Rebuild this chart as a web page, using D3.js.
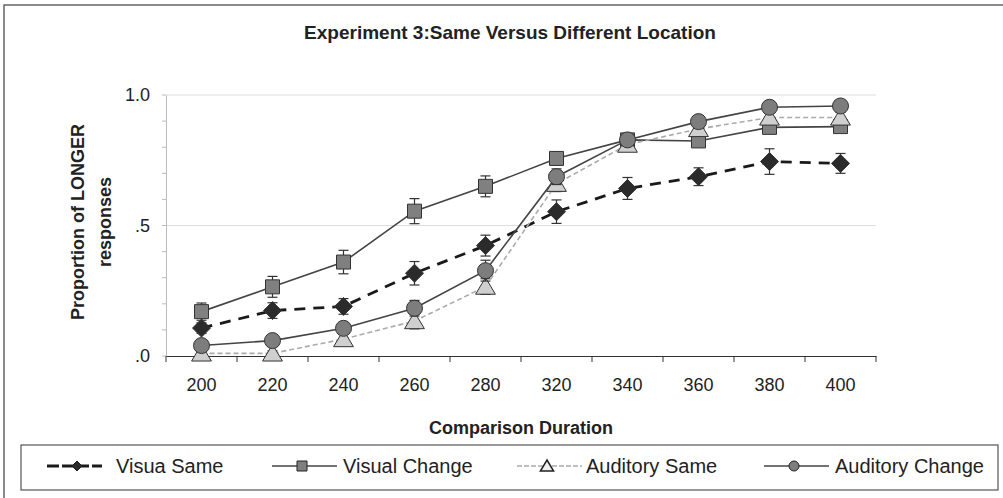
<html>
<head>
<script src="https://d3js.org/d3.v7.min.js"></script>
<style>
body { margin:0; background:#fff; }
text { font-family: Arial, "Liberation Sans", sans-serif; fill:#222; }
</style>
</head>
<body>
<svg width="1003" height="498"></svg>
<script>
// data
var categories = ["200","220","240","260","280","320","340","360","380","400"];
var visualSame = [0.107,0.174,0.19,0.317,0.423,0.553,0.642,0.687,0.745,0.738];
var visualSameErr = [0.02,0.03,0.03,0.045,0.04,0.045,0.042,0.034,0.049,0.038];
var visualChange = [0.17,0.265,0.36,0.555,0.65,0.757,0.828,0.824,0.876,0.879];
var visualChangeErr = [0.033,0.04,0.045,0.048,0.04,0.025,0.02,0.02,0.02,0.02];
var auditorySame = [0.01,0.01,0.065,0.134,0.266,0.66,0.81,0.87,0.914,0.914];
var auditorySameErr = [0.01,0.01,0.02,0.03,0.03,0.03,0.02,0.02,0.02,0.02];
var auditoryChange = [0.04,0.059,0.106,0.183,0.327,0.687,0.828,0.898,0.953,0.958];
var auditoryChangeErr = [0.02,0.02,0.02,0.03,0.04,0.03,0.02,0.02,0.02,0.02];
var yTickValues = [0, 0.5, 1];
var yTickLabels = [".0", ".5", "1.0"];
var seriesNames = ["Visua Same","Visual Change","Auditory Same","Auditory Change"];

var width = 1003, height = 498;
var margin = {top: 95, right: 127, bottom: 142, left: 166};
var svg = d3.select("svg");

var x = d3.scaleBand().domain(categories).range([margin.left, width - margin.right]);
var y = d3.scaleLinear().domain([0, 1]).range([height - margin.bottom, margin.top]);

// outer frame
svg.append("rect")
	.attr("x", 4).attr("y", 5).attr("width", 1010).attr("height", 510)
	.attr("fill", "none").attr("stroke", "#666").attr("stroke-width", 1.5);

// title
svg.append("text")
	.attr("x", 510).attr("y", 39)
	.attr("text-anchor", "middle")
	.style("font-weight", "bold").style("font-size", "19px")
	.text("Experiment 3:Same Versus Different Location");

// gridlines
svg.append("g").selectAll("line")
	.data([0.5, 1]).enter().append("line")
	.attr("x1", x.range()[0]).attr("x2", x.range()[1])
	.attr("y1", d => y(d)).attr("y2", d => y(d))
	.attr("stroke", "#ddd").attr("stroke-width", 1);

// y axis
var yAxis = svg.append("g")
	.attr("transform", "translate(" + margin.left + ",0)")
	.call(d3.axisLeft(y).tickValues(yTickValues)
		.tickFormat((d, i) => yTickLabels[i]).tickSize(0).tickPadding(16));
yAxis.select(".domain").attr("stroke", "#bbb");
yAxis.selectAll("text").style("font-size", "18px").attr("fill", "#222");
// minor ticks
yAxis.selectAll(".minor").data(d3.range(0, 1.01, 0.1)).enter().append("line")
	.attr("class", "minor")
	.attr("x1", -4).attr("x2", 0)
	.attr("y1", d => y(d)).attr("y2", d => y(d))
	.attr("stroke", "#bbb");

// x axis
var xAxis = svg.append("g")
	.attr("transform", "translate(0," + y(0) + ")")
	.call(d3.axisBottom(x).tickSize(0).tickPadding(22));
xAxis.select(".domain").attr("stroke", "#333").attr("stroke-width", 1.2);
xAxis.selectAll("text").style("font-size", "18px").attr("fill", "#222");
xAxis.selectAll(".bound").data(categories.concat(["end"])).enter().append("line")
	.attr("class", "bound")
	.attr("x1", d => d === "end" ? x.range()[1] : x(d))
	.attr("x2", d => d === "end" ? x.range()[1] : x(d))
	.attr("y1", 0).attr("y2", 6)
	.attr("stroke", "#333");

// axis titles
svg.append("text")
	.attr("x", (x.range()[0] + x.range()[1]) / 2).attr("y", 434)
	.attr("text-anchor", "middle")
	.style("font-weight", "bold").style("font-size", "18px")
	.text("Comparison Duration");
var ylab = svg.append("text")
	.attr("transform", "translate(78,222) rotate(-90)")
	.attr("text-anchor", "middle")
	.style("font-weight", "bold").style("font-size", "18px");
ylab.append("tspan").attr("x", 0).attr("dy", "0.35em").text("Proportion of LONGER");
ylab.append("tspan").attr("x", 0).attr("dy", "27").text("responses");

// marker shapes
function markerPath(type, s) {
	if (type == "diamond") return "M0," + (-s) + "L" + s + ",0L0," + s + "L" + (-s) + ",0Z";
	if (type == "square") return "M" + (-s) + "," + (-s) + "h" + (2*s) + "v" + (2*s) + "h" + (-2*s) + "Z";
	if (type == "triangle") return "M0," + (-s) + "L" + (s*1.1) + "," + (s*0.85) + "L" + (-s*1.1) + "," + (s*0.85) + "Z";
	return d3.symbol(d3.symbolCircle, Math.PI * s * s)();
}

var series = [
	{name: seriesNames[0], values: visualSame, err: visualSameErr, line: "#1a1a1a", lw: 2.8, dash: "11,8", marker: "diamond", size: 9, fill: "#2b2b2b"},
	{name: seriesNames[1], values: visualChange, err: visualChangeErr, line: "#444", lw: 1.6, dash: null, marker: "square", size: 7, fill: "#808080"},
	{name: seriesNames[2], values: auditorySame, err: auditorySameErr, line: "#aaa", lw: 1.6, dash: "5,3", marker: "triangle", size: 9, fill: "#cfcfcf"},
	{name: seriesNames[3], values: auditoryChange, err: auditoryChangeErr, line: "#444", lw: 1.6, dash: null, marker: "circle", size: 8, fill: "#7d7d7d"}
];

var cx = c => x(c) + x.bandwidth() / 2;
var line = d3.line().x((d, i) => cx(categories[i])).y(d => y(d));

series.forEach(function(s) {
	var g = svg.append("g");
	var pts = s.values.map((v, i) => ({c: categories[i], v: v, e: s.err[i]}));
	// error bars
	var eb = g.selectAll(".err").data(pts).enter().append("g").attr("stroke", "#333").attr("stroke-width", 1.2);
	eb.append("line").attr("x1", d => cx(d.c)).attr("x2", d => cx(d.c))
		.attr("y1", d => y(d.v - d.e)).attr("y2", d => y(d.v + d.e));
	eb.append("line").attr("x1", d => cx(d.c) - 5).attr("x2", d => cx(d.c) + 5)
		.attr("y1", d => y(d.v - d.e)).attr("y2", d => y(d.v - d.e));
	eb.append("line").attr("x1", d => cx(d.c) - 5).attr("x2", d => cx(d.c) + 5)
		.attr("y1", d => y(d.v + d.e)).attr("y2", d => y(d.v + d.e));
	g.append("path").datum(s.values)
		.attr("d", line).attr("fill", "none")
		.attr("stroke", s.line).attr("stroke-width", s.lw)
		.attr("stroke-dasharray", s.dash);
	g.selectAll(".mk").data(pts).enter().append("path")
		.attr("transform", d => "translate(" + cx(d.c) + "," + y(d.v) + ")")
		.attr("d", markerPath(s.marker, s.size))
		.attr("fill", s.fill).attr("stroke", "#333").attr("stroke-width", 1);
});

// legend
var legend = svg.append("g");
legend.append("rect")
	.attr("x", 21).attr("y", 445).attr("width", 977).attr("height", 45)
	.attr("fill", "#fff").attr("stroke", "#555").attr("stroke-width", 1.2);
var legendX = [47, 272, 517, 764];
var legendItems = legend.selectAll(".item").data(series).enter().append("g")
	.attr("transform", (d, i) => "translate(" + legendX[i] + ",466)");
legendItems.append("line")
	.attr("x1", 0).attr("x2", (d, i) => i == 0 ? 55 : 65)
	.attr("stroke", d => d.line).attr("stroke-width", d => d.lw)
	.attr("stroke-dasharray", (d, i) => i == 0 ? "12,3" : (i == 2 ? "5,2" : null));
legendItems.append("path")
	.attr("transform", (d, i) => "translate(" + (i == 0 ? 30 : 30) + ",0)")
	.attr("d", d => markerPath(d.marker, d.marker == "square" ? 5 : (d.marker == "triangle" ? 6 : 5)))
	.attr("fill", d => d.marker == "triangle" ? "#eee" : d.fill)
	.attr("stroke", "#222").attr("stroke-width", d => d.marker == "triangle" ? 1.5 : 1);
legendItems.append("text")
	.attr("x", (d, i) => i == 0 ? 69 : (i == 1 ? 71 : (i == 2 ? 69 : 71)))
	.attr("y", 7)
	.style("font-size", "20px")
	.text(d => d.name);
</script>
</body>
</html>
